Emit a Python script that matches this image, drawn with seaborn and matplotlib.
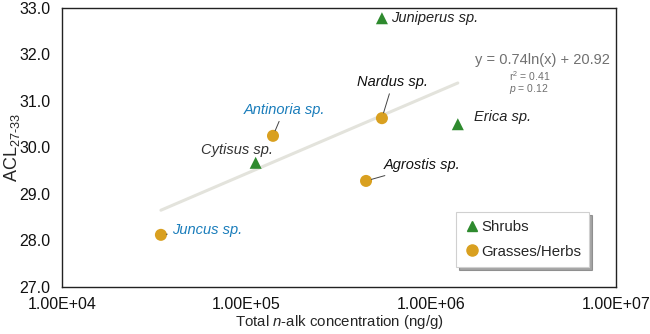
import numpy as np
import pandas as pd
import matplotlib
matplotlib.use("Agg")
import matplotlib.pyplot as plt
import matplotlib.ticker as mticker
from matplotlib.lines import Line2D
import seaborn as sns

species = ["Juniperus sp.", "Erica sp.", "Cytisus sp.",
           "Nardus sp.", "Antinoria sp.", "Agrostis sp.", "Juncus sp."]
groups = ["Shrubs", "Shrubs", "Shrubs",
          "Grasses/Herbs", "Grasses/Herbs", "Grasses/Herbs", "Grasses/Herbs"]
conc = [5.4e5, 1.39e6, 1.12e5, 5.4e5, 1.39e5, 4.43e5, 3.44e4]
acl = [32.78, 30.50, 29.67, 30.63, 30.25, 29.28, 28.12]
fit_a, fit_b = 0.74, 20.92

df = pd.DataFrame({"species": species, "group": groups, "conc": conc, "acl": acl})

sns.set_style("white")
plt.rcParams["font.family"] = ["Liberation Sans", "DejaVu Sans"]
plt.rcParams["mathtext.fontset"] = "custom"
plt.rcParams["mathtext.rm"] = "Liberation Sans"
plt.rcParams["mathtext.it"] = "Liberation Sans:italic"

fig = plt.figure(figsize=(6.5, 3.34), dpi=100)
ax = fig.add_axes([0.095, 0.141, 0.853, 0.835])

# trend line
xf = np.logspace(np.log10(min(conc)), np.log10(max(conc)), 100)
ax.plot(xf, fit_a * np.log(xf) + fit_b, color="#e3e3dc", lw=2.2, zorder=1)

sns.scatterplot(data=df, x="conc", y="acl", hue="group", style="group",
                palette={"Shrubs": "#2e8a2e", "Grasses/Herbs": "#d9a020"},
                markers={"Shrubs": "^", "Grasses/Herbs": "o"},
                s=75, edgecolor="none", ax=ax, zorder=3, legend=False)

# labels: offset in pixels, alignment, colour, leader line
label_style = {
    "Juniperus sp.": ((9, 0), "left", "#222222", False),
    "Erica sp.": ((16, 7), "left", "#222222", False),
    "Cytisus sp.": ((-19, 13), "center", "#333333", False),
    "Nardus sp.": ((11, 36), "center", "#111111", True),
    "Antinoria sp.": ((11, 26), "center", "#1a7dbb", True),
    "Agrostis sp.": ((18, 16), "left", "#111111", True),
    "Juncus sp.": ((11, 5), "left", "#1a7dbb", True),
}
for sp, x, y in zip(species, conc, acl):
    off, ha, col, leader = label_style[sp]
    arrow = dict(arrowstyle="-", color="#444444", lw=0.7, shrinkA=1, shrinkB=4) if leader else None
    ax.annotate(sp, xy=(x, y), xytext=off, textcoords="offset pixels",
                ha=ha, va="center", fontsize=10.5, style="italic", color=col,
                arrowprops=arrow, zorder=4)

ax.text(0.745, 0.814, "y = 0.74ln(x) + 20.92", transform=ax.transAxes,
        fontsize=10.5, color="#707070", ha="left", va="center")
ax.text(0.806, 0.756, "r$^2$ = 0.41", transform=ax.transAxes,
        fontsize=7.5, color="#707070", ha="left", va="center")
ax.text(0.806, 0.71, "$p$ = 0.12", transform=ax.transAxes,
        fontsize=7.5, color="#707070", ha="left", va="center")

ax.set_xscale("log")
ax.set_xlim(1e4, 1e7)
ax.set_ylim(27, 33)
ax.set_xticks([1e4, 1e5, 1e6, 1e7])
ax.xaxis.set_major_formatter(mticker.FuncFormatter(lambda v, p: f"{v:.2E}"))
ax.xaxis.set_minor_locator(mticker.LogLocator(base=10, subs=np.arange(2, 10)))
ax.xaxis.set_minor_formatter(mticker.NullFormatter())
ax.set_yticks(np.arange(27, 33.1, 1))
ax.yaxis.set_major_formatter(mticker.FormatStrFormatter("%.1f"))
ax.tick_params(axis="both", which="both", direction="in", labelsize=11.5,
               color="#222222", labelcolor="#111111")
ax.tick_params(axis="y", which="major", length=4, width=0.8, pad=8)
ax.tick_params(axis="x", which="major", length=4, width=0.8, pad=7)
ax.tick_params(axis="x", which="minor", length=4, width=0.8)
for s in ax.spines.values():
    s.set_color("#222222")
    s.set_linewidth(1.0)

ax.set_xlabel("Total $\\it{n}$-alk concentration (ng/g)", fontsize=10.8, labelpad=1)
ax.set_ylabel("ACL$_{\\mathregular{27\u201033}}$", fontsize=13, labelpad=-2)

handles = [Line2D([], [], marker="^", ls="", color="#2e8a2e", markersize=6.5, label="Shrubs"),
           Line2D([], [], marker="o", ls="", color="#d9a020", markersize=8, label="Grasses/Herbs")]
leg = ax.legend(handles=handles, loc="lower right", bbox_to_anchor=(0.965, 0.045),
                fontsize=10.8, frameon=True, shadow=True, handletextpad=0.1,
                handlelength=1.0, borderpad=0.55, labelspacing=0.7, fancybox=False)
leg.get_frame().set_edgecolor("#d0d0d0")
leg.get_frame().set_linewidth(0.8)

fig.savefig("out.png", dpi=100)
